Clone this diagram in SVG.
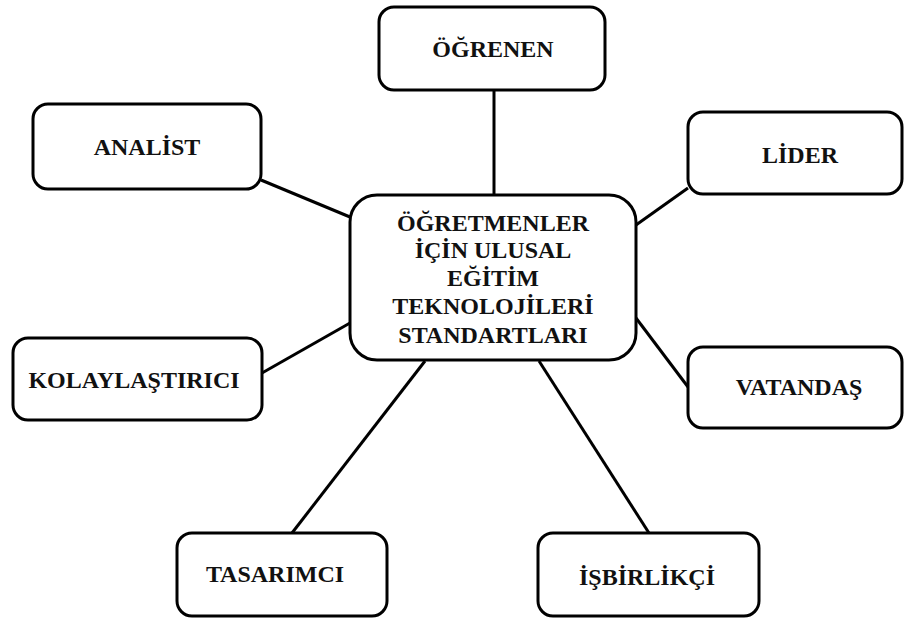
<svg xmlns="http://www.w3.org/2000/svg" width="904" height="618" viewBox="0 0 904 618">
<style>
.box{fill:#fff;stroke:#000;stroke-width:3}
.lbl{font-family:"Liberation Serif","Times New Roman",serif;font-weight:bold;font-size:24px;fill:#111;text-anchor:middle}
.con line{stroke:#000;stroke-width:3}
</style>
<rect width="904" height="618" fill="#fff"/>
<g class="con" id="connectors">
<line x1="494" y1="90" x2="494" y2="195"/>
<line x1="261" y1="180" x2="350" y2="217"/>
<line x1="636" y1="225" x2="688" y2="188"/>
<line x1="262" y1="373" x2="350" y2="323"/>
<line x1="636" y1="318" x2="688" y2="387"/>
<line x1="425" y1="361" x2="292" y2="533"/>
<line x1="539" y1="361" x2="649" y2="533"/>
</g>
<g id="center">
<rect class="box" x="350" y="195" width="286" height="165" rx="27"/>
<text class="lbl"><tspan x="493" y="231">ÖĞRETMENLER</tspan><tspan x="493" y="258">İÇİN ULUSAL</tspan><tspan x="493" y="286">EĞİTİM</tspan><tspan x="493" y="314">TEKNOLOJİLERİ</tspan><tspan x="493" y="343">STANDARTLARI</tspan></text>
</g>
<g id="ogrenen">
<rect class="box" x="379" y="7" width="226" height="83" rx="15"/>
<text class="lbl" x="493" y="57">ÖĞRENEN</text>
</g>
<g id="analist">
<rect class="box" x="33" y="104" width="228" height="85" rx="15"/>
<text class="lbl" x="147" y="155">ANALİST</text>
</g>
<g id="lider">
<rect class="box" x="688" y="112" width="214" height="82" rx="15"/>
<text class="lbl" x="800" y="163">LİDER</text>
</g>
<g id="kolaylastirici">
<rect class="box" x="13" y="338" width="249" height="82" rx="15"/>
<text class="lbl" x="134" y="388">KOLAYLAŞTIRICI</text>
</g>
<g id="vatandas">
<rect class="box" x="688" y="347" width="214" height="81" rx="15"/>
<text class="lbl" x="799" y="395">VATANDAŞ</text>
</g>
<g id="tasarimci">
<rect class="box" x="177" y="533" width="210" height="83" rx="15"/>
<text class="lbl" x="275" y="582">TASARIMCI</text>
</g>
<g id="isbirlikci">
<rect class="box" x="538" y="533" width="221" height="83" rx="15"/>
<text class="lbl" x="647" y="585">İŞBİRLİKÇİ</text>
</g>
</svg>
